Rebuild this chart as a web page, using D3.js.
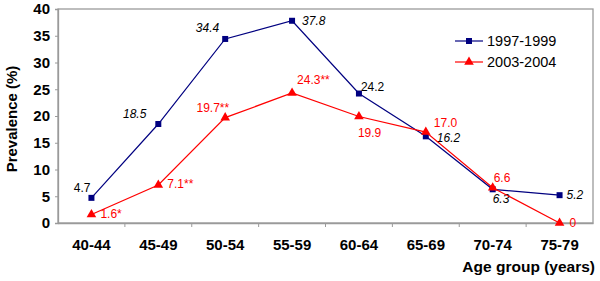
<!DOCTYPE html>
<html lang="en">
<head>
    <meta charset="UTF-8">
    <title>Prevalence by age group</title>
    <script src="https://d3js.org/d3.v7.min.js"></script>
    <style>
        body { margin: 0; background: #fff; }
        text { font-family: Arial, "Liberation Sans", sans-serif; }
    </style>
</head>
<body>
    <div id="chart"></div>
    <script>
        // data
        const ageGroups = ["40-44", "45-49", "50-54", "55-59", "60-64", "65-69", "70-74", "75-79"];
        const yTicks = [0, 5, 10, 15, 20, 25, 30, 35, 40];
        const prev9799 = [4.7, 18.5, 34.4, 37.8, 24.2, 16.2, 6.3, 5.2];
        const labels9799 = ["4.7", "18.5", "34.4", "37.8", "24.2", "16.2", "6.3", "5.2"];
        const prev0304 = [1.6, 7.1, 19.7, 24.3, 19.9, 17.0, 6.6, 0];
        const labels0304 = ["1.6*", "7.1**", "19.7**", "24.3**", "19.9", "17.0", "6.6", "0"];

        // where each value label sits relative to its point: [dx, dy, anchor]
        const place9799 = [[-1, -6, "end"], [-12, -6, "end"], [-6, -7, "end"], [10, 4, "start"],
                           [2, -3, "start"], [11, 6, "start"], [0, 14, "start"], [7, 4, "start"]];
        const place0304 = [[9, 4, "start"], [9, 3, "start"], [4, -6, "end"], [5, -9, "start"],
                           [-1, 20, "start"], [8, -5, "start"], [1, -6, "start"], [10, 4, "start"]];

        const width = 600, height = 281;
        const margin = { top: 9, right: 7, bottom: 58, left: 58 };

        const svg = d3.select("#chart").append("svg")
            .attr("width", width)
            .attr("height", height);

        const x = d3.scaleBand()
            .domain(ageGroups)
            .range([margin.left, width - margin.right]);

        const y = d3.scaleLinear()
            .domain([0, 40])
            .range([height - margin.bottom, margin.top]);

        const gray = "#9a9a9a";

        // plot frame
        svg.append("rect")
            .attr("x", margin.left)
            .attr("y", margin.top)
            .attr("width", width - margin.right - margin.left)
            .attr("height", y(0) - margin.top)
            .attr("fill", "none")
            .attr("stroke", gray)
            .attr("stroke-width", 1.3);

        // y axis
        const yAxis = svg.append("g")
            .attr("transform", `translate(${margin.left},0)`)
            .call(d3.axisLeft(y).tickValues(yTicks).tickSize(3).tickPadding(5));
        yAxis.select(".domain").attr("stroke", gray).attr("stroke-width", 1.3);
        yAxis.selectAll(".tick line").attr("stroke", gray);
        yAxis.selectAll("text")
            .attr("font-size", 15)
            .attr("font-weight", "bold")
            .attr("font-family", "Arial, 'Liberation Sans', sans-serif")
            .attr("fill", "#000");

        // x axis: ticks at category boundaries
        const xAxis = svg.append("g")
            .attr("transform", `translate(0,${y(0)})`)
            .call(d3.axisBottom(x).tickSize(0).tickPadding(16));
        xAxis.select(".domain").attr("stroke", gray).attr("stroke-width", 1.3);
        xAxis.selectAll("text")
            .attr("font-size", 15)
            .attr("font-weight", "bold")
            .attr("font-family", "Arial, 'Liberation Sans', sans-serif")
            .attr("fill", "#000");
        xAxis.selectAll(".sep")
            .data(ageGroups.slice(1))
            .join("line")
            .attr("x1", d => x(d)).attr("x2", d => x(d))
            .attr("y1", 0).attr("y2", 4)
            .attr("stroke", gray);

        // axis titles
        svg.append("text")
            .attr("transform", `translate(17,${(margin.top + y(0)) / 2 + 3}) rotate(-90)`)
            .attr("text-anchor", "middle")
            .attr("font-size", 15)
            .attr("font-weight", "bold")
            .text("Prevalence (%)");

        svg.append("text")
            .attr("x", width - margin.right + 2)
            .attr("y", 272)
            .attr("text-anchor", "end")
            .attr("font-size", 15.5)
            .attr("font-weight", "bold")
            .text("Age group (years)");

        const cx = d => x(d) + x.bandwidth() / 2;
        const line = d3.line()
            .x(d => cx(d[0]))
            .y(d => y(d[1]));

        const series = [
            { name: "1997-1999", values: prev9799, labels: labels9799, place: place9799,
              color: "#000080", symbol: d3.symbolSquare, size: 36, italic: true },
            { name: "2003-2004", values: prev0304, labels: labels0304, place: place0304,
              color: "#ff0000", symbol: d3.symbolTriangle, size: 40, italic: false }
        ];

        series.forEach((s, si) => {
            const pts = ageGroups.map((g, i) => [g, s.values[i]]);

            svg.append("path")
                .datum(pts)
                .attr("d", line)
                .attr("fill", "none")
                .attr("stroke", s.color)
                .attr("stroke-width", 1.2);

            svg.append("g")
                .selectAll("path")
                .data(pts)
                .join("path")
                .attr("transform", d => `translate(${cx(d[0])},${y(d[1])})`)
                .attr("d", d3.symbol().type(s.symbol).size(s.size))
                .attr("fill", s.color);

            svg.append("g")
                .selectAll("text")
                .data(pts)
                .join("text")
                .attr("x", (d, i) => cx(d[0]) + s.place[i][0])
                .attr("y", (d, i) => y(d[1]) + s.place[i][1])
                .attr("text-anchor", (d, i) => s.place[i][2])
                .attr("font-size", 12)
                .attr("font-style", (d, i) => s.italic && i !== 0 && i !== 4 ? "italic" : "normal")
                .attr("fill", si === 0 ? "#000" : s.color)
                .text((d, i) => s.labels[i]);

            // legend
            const ly = 41 + si * 21;
            svg.append("line")
                .attr("x1", 455).attr("x2", 483)
                .attr("y1", ly).attr("y2", ly)
                .attr("stroke", s.color)
                .attr("stroke-width", 1.2);
            svg.append("path")
                .attr("transform", `translate(469,${ly})`)
                .attr("d", d3.symbol().type(s.symbol).size(s.size))
                .attr("fill", s.color);
            svg.append("text")
                .attr("x", 487)
                .attr("y", ly + 5)
                .attr("font-size", 14.5)
                .text(s.name);
        });
    </script>
</body>
</html>
